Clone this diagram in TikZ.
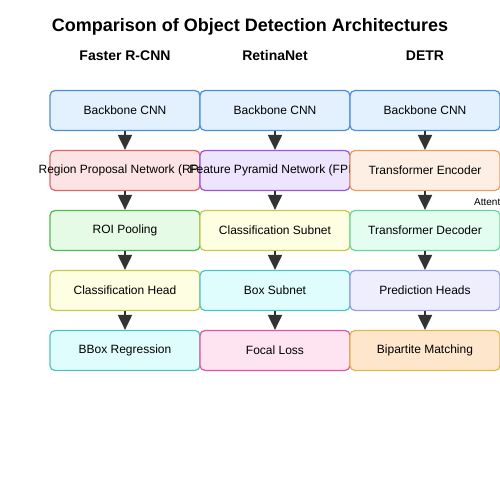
\documentclass[tikz,border=0pt]{standalone}
\usepackage{fontspec}
\setmainfont{Liberation Sans}
\usetikzlibrary{arrows.meta}
\definecolor{bluefill}{HTML}{E3F0FD}\definecolor{bluedraw}{HTML}{4A90D9}
\definecolor{redfill}{HTML}{FDE4E4}\definecolor{reddraw}{HTML}{E06666}
\definecolor{greenfill}{HTML}{E6FBE6}\definecolor{greendraw}{HTML}{4CBB4C}
\definecolor{yelfill}{HTML}{FEFEE2}\definecolor{yeldraw}{HTML}{C8C84A}
\definecolor{cyanfill}{HTML}{E0FDFD}\definecolor{cyandraw}{HTML}{4CC4C4}
\definecolor{purpfill}{HTML}{EDE4FD}\definecolor{purpdraw}{HTML}{9A55E0}
\definecolor{pinkfill}{HTML}{FDE4F0}\definecolor{pinkdraw}{HTML}{E055A0}
\definecolor{orfill}{HTML}{FDEFE3}\definecolor{ordraw}{HTML}{E5A060}
\definecolor{mintfill}{HTML}{E3FDF0}\definecolor{mintdraw}{HTML}{66D6A0}
\definecolor{lavfill}{HTML}{EEEEFD}\definecolor{lavdraw}{HTML}{9A9AE0}
\definecolor{peachfill}{HTML}{FDE6CC}\definecolor{peachdraw}{HTML}{E0B84A}
\definecolor{arr}{HTML}{333333}
\newcommand{\ovr}[1]{\makebox[0pt][c]{#1}}
\tikzset{
  archbox/.style={draw, line width=1.2pt, rounded corners=5pt, minimum width=150pt, minimum height=40pt, inner sep=0pt, font=\fontsize{12}{14}\selectfont, text=black},
  flow/.style={draw=arr, line width=2pt, -{Triangle[length=15pt,width=14pt]}, shorten >=0pt},
  hdr/.style={anchor=base, font=\bfseries\fontsize{14}{16}\selectfont},
}
\begin{document}
\begin{tikzpicture}[x=1pt,y=-1pt]
\useasboundingbox (0,0) rectangle (500,500);
\fill[white] (0,0) rectangle (500,500);
\node[anchor=base, font=\bfseries\fontsize{18}{20}\selectfont] (title) at (250,31.5) {Comparison of Object Detection Architectures};
\node[hdr] (h1) at (125,61) {Faster R-CNN};
\node[hdr] (h2) at (275,61) {RetinaNet};
\node[hdr] (h3) at (425,61) {DETR};
% row 1
\node[archbox, fill=bluefill, draw=bluedraw] (a1) at (125,110.5) {Backbone CNN};
\node[archbox, fill=bluefill, draw=bluedraw] (b1) at (275,110.5) {Backbone CNN};
\node[archbox, fill=bluefill, draw=bluedraw] (c1) at (425,110.5) {Backbone CNN};
% row 2
\node[archbox, fill=redfill, draw=reddraw] (a2) at (125,170.5) {\ovr{Region Proposal Network (RPN)}};
\node[archbox, fill=purpfill, draw=purpdraw] (b2) at (275,170.5) {\ovr{Feature Pyramid Network (FPN)}};
\node[archbox, fill=orfill, draw=ordraw] (c2) at (425,170.5) {Transformer Encoder};
% row 3
\node[archbox, fill=greenfill, draw=greendraw] (a3) at (125,230.5) {ROI Pooling};
\node[archbox, fill=yelfill, draw=yeldraw] (b3) at (275,230.5) {Classification Subnet};
\node[archbox, fill=mintfill, draw=mintdraw] (c3) at (425,230.5) {Transformer Decoder};
% row 4
\node[archbox, fill=yelfill, draw=yeldraw] (a4) at (125,290.5) {Classification Head};
\node[archbox, fill=cyanfill, draw=cyandraw] (b4) at (275,290.5) {Box Subnet};
\node[archbox, fill=lavfill, draw=lavdraw] (c4) at (425,290.5) {Prediction Heads};
% row 5
\node[archbox, fill=cyanfill, draw=cyandraw] (a5) at (125,350.5) {BBox Regression};
\node[archbox, fill=pinkfill, draw=pinkdraw] (b5) at (275,350.5) {Focal Loss};
\node[archbox, fill=peachfill, draw=peachdraw] (c5) at (425,350.5) {Bipartite Matching};
% arrows
\foreach \c in {a,b,c}{
  \draw[flow] (\c1) -- (\c2);
  \draw[flow] (\c2) -- (\c3);
  \draw[flow] (\c3) -- (\c4);
  \draw[flow] (\c4) -- (\c5);
}
\node[anchor=base west, inner sep=0pt, font=\fontsize{10}{12}\selectfont] (att) at (474,205) {Attention};
\end{tikzpicture}
\end{document}
